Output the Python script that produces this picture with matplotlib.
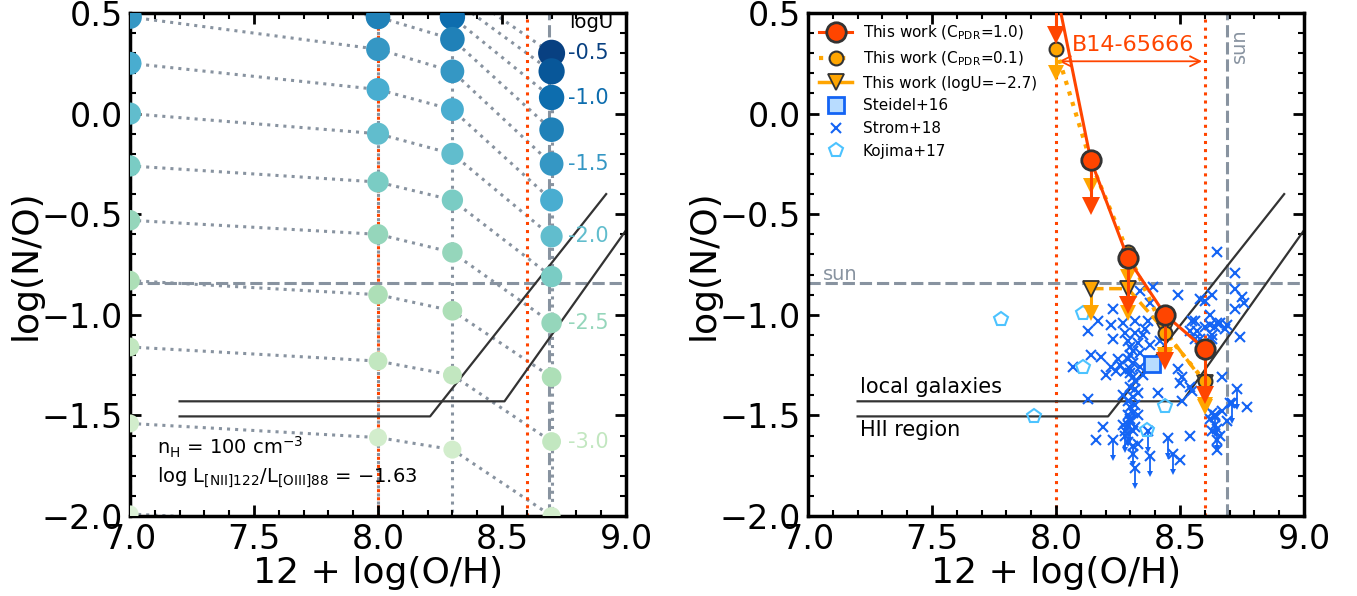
import numpy as np
import matplotlib.pyplot as plt
from matplotlib.colors import Normalize

# ---- model grid for left panel (N/O at fixed [NII]122/[OIII]88) ----
logU_grid = [-0.5, -0.75, -1.0, -1.25, -1.5, -1.75, -2.0, -2.25, -2.5, -2.75, -3.0, -3.25, -3.5]
oh_grid = [7.0, 8.0, 8.3, 8.7]
no_oh70 = [1.05, 0.92, 0.80, 0.70, 0.48, 0.25, 0.00, -0.26, -0.53, -0.83, -1.16, -1.54, -1.99]
no_oh80 = [0.78, 0.70, 0.60, 0.48, 0.32, 0.12, -0.10, -0.34, -0.60, -0.90, -1.23, -1.61, -2.05]
no_oh83 = [0.64, 0.57, 0.48, 0.37, 0.21, 0.02, -0.20, -0.43, -0.69, -0.98, -1.30, -1.67, -2.10]
no_oh87 = [0.30, 0.21, 0.08, -0.08, -0.25, -0.43, -0.61, -0.81, -1.04, -1.31, -1.63, -2.00, -2.42]
label_logU = [-0.5, -1.0, -1.5, -2.0, -2.5, -3.0]

# ---- reference relations ----
local_gal_x = [7.2, 8.51, 9.0]
local_gal_y = [-1.43, -1.43, -0.58]
hii_x = [7.2, 8.21, 8.92]
hii_y = [-1.505, -1.505, -0.40]
sun_oh = 8.69
sun_no = -0.84

# ---- this work ----
oh_obs = [8.0, 8.14, 8.29, 8.44, 8.6]
no_cpdr10 = [0.62, -0.23, -0.72, -1.00, -1.17]
no_cpdr01 = [0.32, -0.24, -0.69, -1.09, -1.33]
oh_u27 = [8.14, 8.29, 8.44, 8.6]
no_u27 = [-0.87, -0.87, -1.08, -1.34]

# ---- literature ----
steidel_oh = [8.386]
steidel_no = [-1.243]
kojima_oh = [7.78, 7.91, 8.11, 8.11, 8.44, 8.365]
kojima_no = [-1.02, -1.505, -0.99, -1.26, -1.455, -1.575]
strom_oh = [8.65, 8.72, 8.72, 8.49, 8.63, 8.75, 8.76, 8.39, 8.34, 8.38,
            8.72, 8.62, 8.65, 8.64, 8.69, 8.63, 8.74, 8.23, 8.17, 8.22,
            8.27, 8.32, 8.37, 8.36, 8.28, 8.32, 8.35, 8.13, 8.23, 8.29,
            8.33, 8.38, 8.42, 8.54, 8.57, 8.55, 8.14, 8.18, 8.25, 8.30,
            8.34, 8.39, 8.26, 8.22, 8.28, 8.30, 8.07, 8.20, 8.24, 8.31,
            8.32, 8.49, 8.51, 8.50, 8.67, 8.54, 8.55, 8.41, 8.30, 8.31,
            8.33, 8.13, 8.51, 8.30, 8.31, 8.77, 8.63, 8.62, 8.69, 8.64,
            8.19, 8.27, 8.32, 8.54, 8.16, 8.29, 8.33, 8.31, 8.50, 8.65,
            8.58, 8.60, 8.56, 8.60, 8.62, 8.66, 8.63, 8.56, 8.58, 8.68,
            8.30, 8.31, 8.29, 8.31, 8.30, 8.32, 8.29, 8.32, 8.30, 8.29,
            8.31, 8.28, 8.33, 8.27, 8.35, 8.34, 8.64, 8.63, 8.66, 8.65,
            8.67, 8.70]
strom_no = [-0.69, -0.79, -0.87, -0.90, -0.90, -0.91, -0.94, -0.86, -0.88, -0.94,
            -0.97, -1.00, -1.04, -1.06, -1.05, -1.10, -1.11, -0.97, -1.03, -1.05,
            -1.04, -1.03, -1.03, -1.07, -1.09, -1.09, -1.10, -1.08, -1.12, -1.13,
            -1.14, -1.15, -1.13, -1.08, -1.08, -1.03, -1.20, -1.21, -1.22, -1.20,
            -1.19, -1.24, -1.25, -1.26, -1.28, -1.27, -1.26, -1.30, -1.28, -1.31,
            -1.33, -1.27, -1.31, -1.34, -1.31, -1.36, -1.38, -1.39, -1.36, -1.41,
            -1.39, -1.42, -1.43, -1.46, -1.49, -1.46, -1.49, -1.52, -1.53, -1.55,
            -1.56, -1.55, -1.56, -1.60, -1.62, -1.63, -1.64, -1.69, -1.72, -1.67,
            -0.92, -0.93, -1.03, -1.06, -1.05, -1.04, -1.12, -1.12, -1.12, -1.07,
            -1.16, -1.18, -1.22, -1.24, -1.29, -1.37, -1.43, -1.45, -1.52, -1.50,
            -1.58, -1.60, -1.50, -1.40, -1.30, -1.26, -1.51, -1.58, -1.60, -1.62,
            -1.48, -1.44]
strom_lim_oh = [8.23, 8.31, 8.32, 8.38, 8.45, 8.47, 8.28, 8.37, 8.73, 8.71, 8.65, 8.30, 8.29, 8.64]
strom_lim_no = [-1.62, -1.65, -1.76, -1.70, -1.61, -1.69, -1.58, -1.58, -1.37, -1.44, -1.57, -1.53, -1.55, -1.50]

c_red = '#ff4500'
c_orange = '#ffa500'
c_gray = '#8893a0'
c_blue = '#1464f4'
c_kojima = '#4cc3ff'
c_edge = '#333333'


def style_axes(ax):
    ax.set_xlim(7.0, 9.0)
    ax.set_ylim(-2.0, 0.5)
    ax.set_xticks(np.arange(7.0, 9.01, 0.5))
    ax.set_yticks(np.arange(-2.0, 0.51, 0.5))
    ax.set_xticks(np.arange(7.0, 9.01, 0.1), minor=True)
    ax.set_yticks(np.arange(-2.0, 0.51, 0.1), minor=True)
    ax.tick_params(which='both', direction='in', top=True, right=True)
    ax.tick_params(which='major', length=8, width=2, labelsize=24, pad=5)
    ax.tick_params(which='minor', length=4, width=1.5)
    for s in ax.spines.values():
        s.set_linewidth(2.5)
    ax.set_xlabel('12 + log(O/H)', fontsize=26, labelpad=0)
    ax.set_ylabel('log(N/O)', fontsize=26, labelpad=-1)


def draw_limits(ax, xs, ys, length, color, lw, ms, z):
    # downward arrows for upper limits
    for x, y in zip(xs, ys):
        ax.plot([x, x], [y, y - length], color=color, lw=lw, zorder=z)
        ax.plot(x, y - length, marker='v', color=color, ms=ms, mew=0, ls='none', zorder=z)


def draw_refs(ax):
    ax.plot(local_gal_x, local_gal_y, color=c_edge, lw=1.6, zorder=2)
    ax.plot(hii_x, hii_y, color=c_edge, lw=1.6, zorder=2)
    ax.axhline(sun_no, color=c_gray, lw=2.2, dashes=(4, 1.6), zorder=1)
    ax.axvline(sun_oh, color=c_gray, lw=2.2, dashes=(4, 1.6), zorder=1)
    for xv in [8.0, 8.6]:
        ax.axvline(xv, color=c_red, lw=2.2, ls=':', zorder=1.5)


fig = plt.figure(figsize=(13.57, 5.96), dpi=100)
ax1 = fig.add_axes([130 / 1357, 80 / 596, 496 / 1357, 503 / 596])
ax2 = fig.add_axes([808 / 1357, 80 / 596, 496 / 1357, 503 / 596])

# ---------------- left panel ----------------
cmap = plt.cm.GnBu
norm = Normalize(vmin=-4.0, vmax=-0.5)
grid = np.array([no_oh70, no_oh80, no_oh83, no_oh87])
draw_refs(ax1)
for j in range(len(logU_grid)):
    ax1.plot(oh_grid, grid[:, j], ls=':', color=c_gray, lw=2.2, zorder=1)
for i, oh in enumerate(oh_grid):
    ax1.plot([oh] * len(logU_grid), grid[i], ls=':', color=c_gray, lw=2.2, zorder=1)
sizes = [(18 + (u + 3.25) * 9 / 2.75) ** 2 * 0.52 for u in logU_grid]
for i, oh in enumerate(oh_grid):
    ax1.scatter([oh] * len(logU_grid), grid[i], c=logU_grid, cmap=cmap, norm=norm,
                s=sizes, edgecolors='none', zorder=3)
ax1.text(8.77, 0.455, 'logU', fontsize=14, va='center', ha='left')
for u in label_logU:
    yv = no_oh87[logU_grid.index(u)]
    ax1.text(8.767, yv, f'{u:.1f}', color=cmap(norm(u)), fontsize=15,
             va='center', ha='left', zorder=4)
ax1.text(7.11, -1.66, r'n$_{\rm H}$ = 100 cm$^{-3}$', fontsize=14, va='center')
ax1.text(7.11, -1.81, r'log L$_{\rm [NII]122}$/L$_{\rm [OIII]88}$ = $-$1.63',
         fontsize=14, va='center')
style_axes(ax1)

# ---------------- right panel ----------------
draw_refs(ax2)
ax2.text(7.06, -0.80, 'sun', color=c_gray, fontsize=14, va='center')
ax2.text(8.70, 0.34, 'sun', color=c_gray, fontsize=14, va='center', ha='left', rotation=90)
ax2.text(7.21, -1.36, 'local galaxies', fontsize=15, va='center')
ax2.text(7.21, -1.575, 'HII region', fontsize=15, va='center')

ax2.plot(strom_oh, strom_no, 'x', color=c_blue, ms=7, mew=1.5, ls='none', zorder=3)
ax2.plot(strom_lim_oh, strom_lim_no, 'x', color=c_blue, ms=7, mew=1.5, ls='none', zorder=3)
draw_limits(ax2, strom_lim_oh, strom_lim_no, 0.09, c_blue, 1.3, 5, 3)
ax2.plot(kojima_oh, kojima_no, 'p', mfc='none', mec=c_kojima, ms=10, mew=1.5, ls='none', zorder=3)
ax2.plot(steidel_oh, steidel_no, 's', mfc='#b8dcff', mec=c_blue, ms=11, mew=2, ls='none', zorder=4)

draw_limits(ax2, oh_obs, no_cpdr01, 0.12, c_orange, 2.2, 11, 5)
draw_limits(ax2, oh_u27, no_u27, 0.12, c_orange, 2.2, 11, 5)
draw_limits(ax2, oh_obs, no_cpdr10, 0.23, c_red, 2.2, 13, 6)
ax2.plot(oh_u27, no_u27, ls='--', color=c_orange, lw=2.5, marker='v', ms=11,
         mec=c_edge, mew=1.3, zorder=5)
ax2.plot(oh_obs, no_cpdr01, ls=':', color=c_orange, lw=3, marker='o', ms=10,
         mec=c_edge, mew=1.5, zorder=5)
ax2.plot(oh_obs, no_cpdr10, ls='-', color=c_red, lw=2.2, marker='o', ms=14,
         mec=c_edge, mew=2, zorder=7)

ax2.annotate('', xy=(8.0, 0.26), xytext=(8.6, 0.26),
             arrowprops=dict(arrowstyle='<->', color=c_red, lw=1.3, mutation_scale=18))
ax2.text(8.065, 0.34, 'B14-65666', color=c_red, fontsize=16, va='center', ha='left')

h_a, = ax2.plot([], [], ls='-', color=c_red, lw=2.2, marker='o', ms=14, mec=c_edge, mew=2)
h_b, = ax2.plot([], [], ls=':', color=c_orange, lw=3, marker='o', ms=10, mec=c_edge, mew=1.5)
h_c, = ax2.plot([], [], ls='-', color=c_orange, lw=2.5, marker='v', ms=11, mec=c_edge, mew=1.3)
h_s, = ax2.plot([], [], 's', mfc='#b8dcff', mec=c_blue, ms=11, mew=2, ls='none')
h_x, = ax2.plot([], [], 'x', color=c_blue, ms=7, mew=1.5, ls='none')
h_k, = ax2.plot([], [], 'p', mfc='none', mec=c_kojima, ms=10, mew=1.5, ls='none')
ax2.legend([h_a, h_b, h_c, h_s, h_x, h_k],
           [r'This work (C$_{\rm PDR}$=1.0)', r'This work (C$_{\rm PDR}$=0.1)',
            'This work (logU=\u22122.7)', 'Steidel+16', 'Strom+18', 'Kojima+17'],
           loc='upper left', fontsize=11, frameon=False, handlelength=2.2,
           handletextpad=0.7, labelspacing=0.5, borderaxespad=0.3)
style_axes(ax2)

fig.savefig('out.png', dpi=100)
